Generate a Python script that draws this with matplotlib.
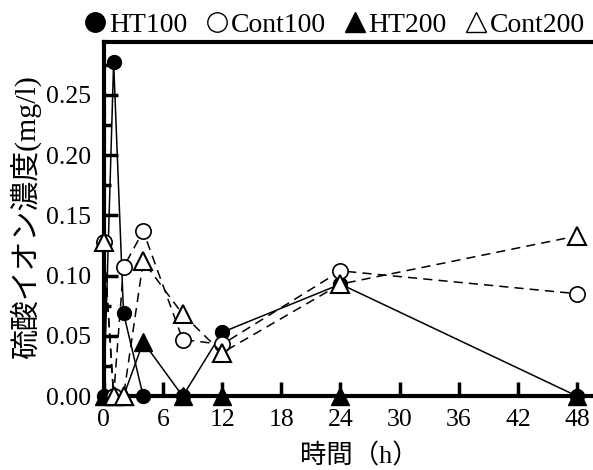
import numpy as np
import matplotlib
matplotlib.use('Agg')
from matplotlib import pyplot as plt
from matplotlib.lines import Line2D

# 時間 (h)
times = [0, 1, 2, 4, 8, 12, 24, 48]
# 硫酸イオン濃度 (mg/l)
ht100 = [0.0, 0.277, 0.069, 0.0, 0.0, 0.053, 0.093, 0.0]
cont100 = [0.128, 0.0, 0.107, 0.137, 0.047, 0.043, 0.104, 0.085]
ht200 = [0.0, 0.0, 0.0, 0.045, 0.0, 0.0, 0.0, 0.0]
cont200 = [0.128, 0.0, 0.0, 0.112, 0.068, 0.036, 0.093, 0.133]

xticks = [0, 6, 12, 18, 24, 30, 36, 42, 48]
yticks = [0.0, 0.05, 0.10, 0.15, 0.20, 0.25]

plt.rcParams['font.family'] = ['Liberation Serif', 'Noto Sans CJK JP']

fig = plt.figure(figsize=(5.93, 4.70), dpi=100)
ax = fig.add_axes([0.175, 0.157, 0.825, 0.754])

lw = 1.1
dash = (0, (6, 4))
ax.plot(times, ht200, color='black', lw=lw, marker='^', ms=13,
        mfc='black', mec='black', clip_on=False, zorder=3)
ax.plot(times, ht100, color='black', lw=lw, marker='o', ms=10,
        mfc='black', mec='black', clip_on=False, zorder=4)
ax.plot(times, cont100, color='black', lw=lw, ls=dash, marker='o', ms=11,
        mfc='white', mec='black', mew=1.2, clip_on=False, zorder=5)
ax.plot(times, cont200, color='black', lw=lw, ls=dash, marker='^', ms=13,
        mfc='white', mec='black', mew=1.5, clip_on=False, zorder=6)

ax.set_xlim(0, 49.6)
ax.set_ylim(0, 0.294)
ax.set_xticks(xticks)
ax.set_yticks(yticks)
ax.set_yticks(np.arange(0.025, 0.29, 0.05), minor=True)
ax.set_yticklabels(['%.2f' % v for v in yticks])

ax.spines['right'].set_visible(False)
for s in ['left', 'bottom', 'top']:
    ax.spines[s].set_linewidth(3)
ax.tick_params(axis='both', which='major', direction='in', length=10, width=2.5,
               labelsize=18.5)
ax.tick_params(axis='y', which='major', pad=9)
ax.tick_params(axis='x', which='major', pad=9)
ax.tick_params(axis='y', which='minor', direction='in', length=5, width=2.5)

ax.set_xlabel('時間（h）', fontsize=19,
              family=['Liberation Serif', 'Noto Sans CJK JP'])
ax.xaxis.set_label_coords(0.523, -0.133)
ax.set_ylabel('硫酸イオン濃度(mg/l)', fontsize=21.5,
              family=['Liberation Serif', 'Noto Sans CJK JP'])
ax.yaxis.set_label_coords(-0.128, 0.506)

handles = [
    Line2D([], [], ls='none', marker='o', ms=14, mfc='black', mec='black'),
    Line2D([], [], ls='none', marker='o', ms=14, mfc='white', mec='black'),
    Line2D([], [], ls='none', marker='^', ms=15, mfc='black', mec='black'),
    Line2D([], [], ls='none', marker='^', ms=15, mfc='white', mec='black'),
]
fig.legend(handles, ['HT100', 'Cont100', 'HT200', 'Cont200'], ncol=4,
           loc='center', bbox_to_anchor=(0.563, 0.947), frameon=False,
           fontsize=20, handlelength=0.9, handletextpad=0.05,
           columnspacing=0.6, borderaxespad=0)

fig.savefig('out.png', dpi=100)
